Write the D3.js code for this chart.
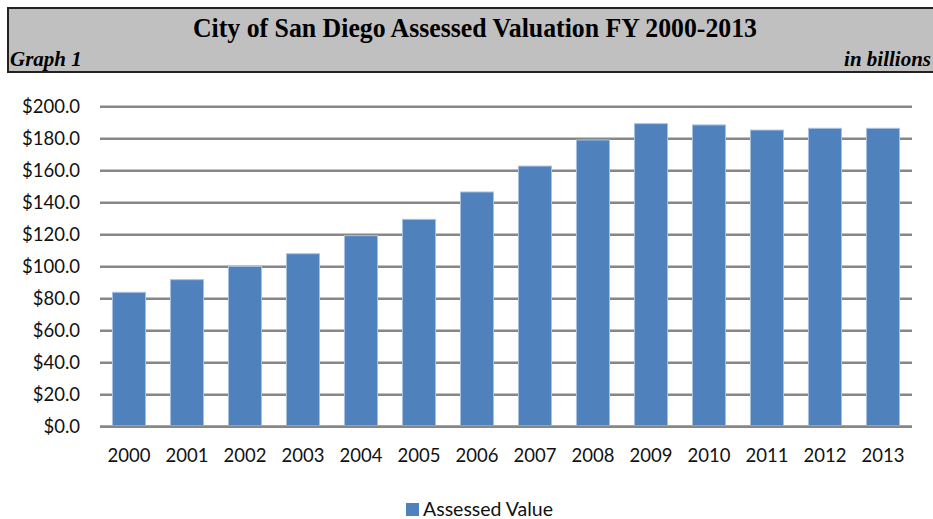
<!DOCTYPE html>
<html>
<head>
<meta charset="utf-8">
<script src="https://cdn.jsdelivr.net/npm/d3@7"></script>
<style>
  body { margin:0; background:#fff; }
  svg { display:block; }
</style>
</head>
<body>
<div id="chart"></div>
<script>
// values, in billions
const years = ["2000","2001","2002","2003","2004","2005","2006","2007","2008","2009","2010","2011","2012","2013"];
const assessedValue = [84.0, 91.9, 100.2, 108.1, 119.4, 129.6, 146.7, 162.9, 179.2, 189.4, 188.6, 185.4, 186.5, 186.5];
const yTicks = [0, 20, 40, 60, 80, 100, 120, 140, 160, 180, 200];
const seriesName = "Assessed Value";

const W = 933, H = 519;
const plot = { left:100, right:912, top:106.7, bottom:426.7 };

const svg = d3.select("#chart").append("svg")
  .attr("width", W)
  .attr("height", H);

// ===== header box =====
svg.append("rect")
  .attr("x", 8).attr("y", 8)
  .attr("width", W - 7).attr("height", 64)
  .attr("fill", "#c0c0c0")
  .attr("stroke", "#222")
  .attr("stroke-width", 2);

const serif = "'Liberation Serif', 'Times New Roman', serif";

svg.append("text")
  .attr("x", 475).attr("y", 37)
  .attr("text-anchor", "middle")
  .attr("textLength", 564).attr("lengthAdjust", "spacingAndGlyphs")
  .style("font-family", serif)
  .style("font-weight", "bold")
  .style("font-size", "27px")
  .text("City of San Diego Assessed Valuation FY 2000-2013");

svg.append("text")
  .attr("x", 10).attr("y", 66)
  .style("font-family", serif)
  .style("font-weight", "bold").style("font-style", "italic")
  .style("font-size", "21px")
  .text("Graph 1");

svg.append("text")
  .attr("x", 931).attr("y", 66)
  .attr("text-anchor", "end")
  .style("font-family", serif)
  .style("font-weight", "bold").style("font-style", "italic")
  .style("font-size", "21px")
  .text("in billions");

// ===== scales =====
const x = d3.scaleBand().domain(years).range([plot.left, plot.right]).paddingInner(0.43).paddingOuter(0.215);
const y = d3.scaleLinear().domain([0, 200]).range([plot.bottom, plot.top]);

const labelFont = "Lato, 'Open Sans', 'Noto Sans', sans-serif";

// gridlines
svg.append("g").selectAll("line")
  .data(yTicks).enter().append("line")
  .attr("x1", plot.left).attr("x2", plot.right)
  .attr("y1", d => y(d)).attr("y2", d => y(d))
  .attr("stroke", "#878787")
  .attr("stroke-width", 2.5);

// y axis labels
const yAxis = svg.append("g")
  .attr("transform", `translate(${plot.left},0)`)
  .call(d3.axisLeft(y).tickValues(yTicks).tickSize(0).tickPadding(20).tickFormat(d => "$" + d.toFixed(1)));
yAxis.select(".domain").remove();
yAxis.selectAll("text")
  .style("font-family", labelFont)
  .style("font-size", "18.5px")
  .attr("fill", "#111");

// bars
svg.append("g").selectAll("rect")
  .data(years).enter().append("rect")
  .attr("x", d => x(d))
  .attr("y", (d, i) => y(assessedValue[i]))
  .attr("width", x.bandwidth())
  .attr("height", (d, i) => y(0) - y(assessedValue[i]) - 1)
  .attr("fill", "#4f81bd")
  .attr("stroke", "#a9c2e2")
  .attr("stroke-width", 1);

// baseline redraw on top
svg.append("line")
  .attr("x1", plot.left).attr("x2", plot.right)
  .attr("y1", y(0)).attr("y2", y(0))
  .attr("stroke", "#878787")
  .attr("stroke-width", 2.5);

// x axis labels
const xAxis = svg.append("g")
  .attr("transform", `translate(0,${plot.bottom})`)
  .call(d3.axisBottom(x).tickSize(0).tickPadding(22));
xAxis.select(".domain").remove();
xAxis.selectAll("text")
  .style("font-family", labelFont)
  .style("font-size", "18.5px")
  .attr("fill", "#111");

// legend
const legend = svg.append("g").attr("transform", "translate(406,503)");
legend.append("rect")
  .attr("width", 13).attr("height", 13)
  .attr("fill", "#4f81bd");
legend.append("text")
  .attr("x", 17).attr("y", 13)
  .style("font-family", labelFont)
  .style("font-size", "19.5px")
  .attr("fill", "#111")
  .text(seriesName);
</script>
</body>
</html>
